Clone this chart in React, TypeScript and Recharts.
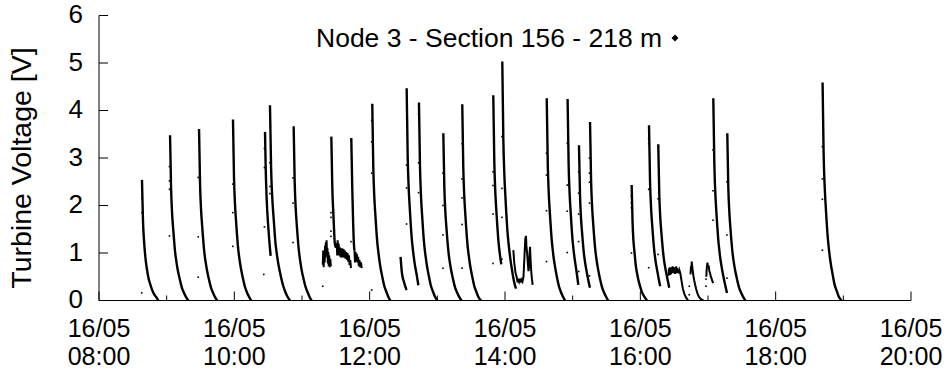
import React from 'react';
import { ComposedChart, Line, Scatter, XAxis, YAxis } from 'recharts';

// Time axis: minutes after 16/05 08:00 ; value: turbine voltage [V]
const legendLabel = 'Node 3 - Section 156 - 218 m';
const yAxisTitle = 'Turbine Voltage [V]';
const dateLabel = '16/05';
const xTicks = [0, 60, 120, 180, 240, 300, 360, 420, 480, 540, 600, 660, 720];
const yTicks = [0, 1, 2, 3, 4, 5, 6];

const burst01 = [[38.1, 2.54], [39.0, 1.68], [39.9, 1.27], [40.8, 0.99], [41.6, 0.81], [42.5, 0.66], [43.4, 0.53], [44.3, 0.43], [45.2, 0.36], [47.0, 0.23], [48.7, 0.14], [50.5, 0.08], [52.6, 0]];
const burst02 = [[63.0, 3.48], [63.9, 2.37], [64.8, 1.84], [65.7, 1.53], [66.5, 1.29], [67.4, 1.04], [68.3, 0.87], [69.2, 0.73], [70.1, 0.61], [71.9, 0.42], [73.6, 0.26], [75.4, 0.16], [77.2, 0.07], [79.2, 0]];
const burst03 = [[88.7, 3.61], [89.6, 2.45], [90.5, 1.91], [91.4, 1.59], [92.2, 1.34], [93.1, 1.08], [94.0, 0.9], [94.9, 0.76], [95.8, 0.63], [97.6, 0.43], [99.3, 0.27], [101.1, 0.16], [102.9, 0.07], [104.7, 0]];
const burst04 = [[118.8, 3.81], [119.7, 2.59], [120.6, 2.02], [121.5, 1.68], [122.3, 1.41], [123.2, 1.14], [124.1, 0.95], [125.0, 0.8], [125.9, 0.67], [127.7, 0.46], [129.4, 0.29], [131.2, 0.17], [133.0, 0.08], [134.8, 0]];
const burst05 = [[147.2, 3.55], [147.8, 2.8], [148.7, 2.12], [150.1, 1.55], [152.2, 0.94]];
const burst06 = [[151.6, 4.11], [152.6, 2.79], [153.6, 2.18], [154.6, 1.81], [155.5, 1.52], [156.4, 1.23], [157.4, 1.03], [158.4, 0.86], [159.4, 0.72], [161.4, 0.49], [163.3, 0.31], [165.2, 0.18], [167.2, 0.08], [169.4, 0]];
const burst07 = [[172.6, 3.67], [173.5, 2.5], [174.4, 1.95], [175.3, 1.61], [176.1, 1.36], [177.0, 1.1], [177.9, 0.92], [178.8, 0.77], [179.7, 0.64], [181.5, 0.44], [183.2, 0.28], [185.0, 0.17], [186.8, 0.07], [188.6, 0]];
const burst08 = [[206.0, 3.45], [206.9, 2.35], [207.8, 1.83], [208.6, 1.4], [209.3, 1.13], [210.8, 1.2]];
const burst09 = [[223.7, 3.42], [224.6, 2.33], [225.4, 1.6], [226.0, 1.2], [226.5, 1.05]];
const burst10 = [[242.3, 4.14], [243.2, 2.82], [244.1, 2.19], [245.0, 1.82], [245.8, 1.53], [246.7, 1.24], [247.6, 1.04], [248.5, 0.87], [249.4, 0.72], [251.2, 0.5], [252.9, 0.31], [254.7, 0.19], [256.5, 0.08], [258.3, 0]];
const burst11 = [[267.4, 0.92], [268.5, 0.6], [270.3, 0.4], [272.7, 0.22]];
const burst12 = [[272.8, 4.47], [273.7, 3.04], [274.6, 2.37], [275.5, 1.97], [276.3, 1.65], [277.2, 1.34], [278.1, 1.12], [279.0, 0.94], [279.9, 0.78], [281.7, 0.54], [283.2, 0.32]];
const burst13 = [[283.7, 4.17], [284.6, 2.84], [285.5, 2.21], [286.4, 1.83], [287.2, 1.54], [288.1, 1.25], [289.0, 1.04], [289.9, 0.88], [290.8, 0.73], [292.6, 0.5], [294.3, 0.31], [296.1, 0.19], [297.9, 0.08], [300.2, 0]];
const burst14 = [[305.3, 3.52], [306.2, 2.39], [307.1, 1.87], [308.0, 1.55], [308.8, 1.3], [309.7, 1.06], [310.6, 0.88], [311.5, 0.74], [312.4, 0.62], [314.2, 0.42], [315.9, 0.26], [317.7, 0.16], [319.5, 0.07], [321.5, 0]];
const burst15 = [[322.1, 4.13], [323.0, 2.81], [323.9, 2.19], [324.8, 1.82], [325.6, 1.53], [326.5, 1.24], [327.4, 1.03], [328.3, 0.87], [329.2, 0.72], [331.0, 0.5], [332.7, 0.31], [334.5, 0.19], [336.3, 0.08], [338.8, 0]];
const burst16 = [[349.6, 4.32], [350.5, 2.94], [351.4, 2.29], [352.3, 1.9], [353.1, 1.6], [354.0, 1.3], [354.9, 1.08], [355.8, 0.91], [356.7, 0.76]];
const burst17 = [[357.6, 5.03], [358.5, 3.42], [359.4, 2.67], [360.3, 2.21], [361.1, 1.86], [362.0, 1.51], [362.9, 1.26], [363.8, 1.06], [364.7, 0.88], [366.5, 0.6], [368.2, 0.38], [369.8, 0.25]];
const burst18 = [[397.0, 4.26], [397.9, 2.9], [398.8, 2.26], [399.7, 1.87], [400.5, 1.58], [401.4, 1.28], [402.3, 1.07], [403.2, 0.89], [404.1, 0.75], [405.9, 0.51], [407.6, 0.32], [409.4, 0.19], [411.2, 0.09], [413.2, 0]];
const burst19 = [[415.5, 4.24], [416.4, 2.88], [417.3, 2.25], [418.2, 1.87], [419.0, 1.57], [419.9, 1.27], [420.8, 1.06], [421.7, 0.89], [422.6, 0.74], [424.0, 0.51], [425.0, 0.33]];
const burst20 = [[425.6, 3.27], [426.5, 2.22], [427.4, 1.73], [428.3, 1.44], [429.1, 1.21], [430.0, 0.98], [430.9, 0.82], [431.8, 0.69], [432.7, 0.57], [434.2, 0.39], [435.3, 0.27]];
const burst21 = [[435.4, 3.76], [436.3, 2.56], [437.2, 1.99], [438.1, 1.65], [438.9, 1.39], [439.8, 1.13], [440.7, 0.94], [441.6, 0.79], [442.5, 0.66], [444.3, 0.45], [446.0, 0.28], [447.8, 0.17], [449.6, 0.08], [451.4, 0]];
const burst22 = [[472.3, 2.43], [473.1, 1.65], [473.8, 1.29], [474.6, 1.07], [475.3, 0.9], [476.0, 0.73], [476.8, 0.61], [477.6, 0.51], [478.3, 0.43], [479.9, 0.29], [481.3, 0.18], [482.8, 0.11], [484.4, 0.05], [485.9, 0]];
const burst23 = [[487.7, 3.69], [488.6, 2.51], [489.5, 1.96], [490.4, 1.62], [491.2, 1.37], [492.1, 1.11], [493.0, 0.92], [493.9, 0.77], [494.8, 0.65], [496.4, 0.44], [497.6, 0.3]];
const burst24 = [[495.9, 3.29], [496.8, 2.24], [497.7, 1.74], [498.6, 1.45], [499.4, 1.22], [500.3, 0.99], [501.2, 0.82], [502.1, 0.69], [503.0, 0.58], [504.6, 0.39], [505.6, 0.27]];
const burst25 = [[544.7, 4.26], [545.6, 2.9], [546.5, 2.26], [547.4, 1.87], [548.2, 1.58], [549.1, 1.28], [550.0, 1.07], [550.9, 0.89], [551.8, 0.75], [553.6, 0.51], [555.3, 0.32], [556.8, 0.16]];
const burst26 = [[557.1, 3.52], [558.0, 2.39], [558.9, 1.87], [559.8, 1.55], [560.6, 1.3], [561.5, 1.06], [562.4, 0.88], [563.3, 0.74], [564.2, 0.62], [566.0, 0.42], [567.7, 0.26], [569.5, 0.16], [571.3, 0.07], [573.1, 0]];
const burst27 = [[641.6, 4.59], [642.5, 3.12], [643.4, 2.43], [644.3, 2.02], [645.1, 1.7], [646.0, 1.38], [646.9, 1.15], [647.8, 0.96], [648.7, 0.8], [650.5, 0.55], [652.2, 0.34], [654.0, 0.21], [655.8, 0.09], [658.4, 0]];

// small irregular (noisy) episodes
const noiseA = [[198.4, 0.75], [198.8, 1.05], [199.2, 0.7], [199.7, 0.95], [200.1, 0.8], [200.4, 1.15], [200.8, 0.9], [201.1, 1.22], [201.5, 1.0], [201.8, 1.27], [202.2, 0.95], [202.6, 1.1], [202.9, 0.78], [203.3, 1.02], [203.7, 0.72], [204.1, 0.95], [204.6, 0.7], [205.1, 0.88], [205.6, 0.72]];
const noiseB = [[210.8, 1.2], [211.2, 0.95], [211.6, 1.27], [212.0, 1.0], [212.5, 1.2], [213.0, 0.95], [213.5, 1.12], [214.0, 0.92], [214.6, 1.1], [215.1, 0.9], [215.6, 1.1], [216.2, 0.92], [216.8, 1.08], [217.4, 0.9], [218.0, 1.05], [218.6, 0.88], [219.2, 1.02], [219.8, 0.86], [220.4, 1.0], [221.0, 0.82], [221.6, 0.95], [222.2, 0.75], [222.8, 0.85], [223.4, 0.68]];
const noiseC = [[226.5, 1.05], [227.0, 0.8], [227.5, 1.02], [228.0, 0.82], [228.6, 0.98], [229.2, 0.8], [229.8, 0.92], [230.4, 0.72], [231.0, 0.85], [231.6, 0.7], [232.3, 0.8], [233.0, 0.68]];
const noiseD = [[367.4, 1.06], [368.2, 0.8], [369.2, 0.6], [370.6, 0.47], [371.2, 0.38], [371.8, 0.46], [372.5, 0.4], [373.2, 0.46], [373.9, 0.38], [374.6, 0.44], [375.5, 0.4], [376.4, 0.5], [377.0, 0.8], [377.5, 1.05], [378.0, 1.3], [378.6, 1.36], [379.0, 1.15], [379.6, 1.0], [380.2, 0.8], [380.8, 0.62], [381.4, 0.7], [381.8, 1.0], [382.2, 1.13], [382.7, 0.85], [383.3, 0.6], [383.9, 0.45], [384.5, 0.33]];
const noiseE = [[505.0, 0.52], [505.4, 0.68], [505.8, 0.55], [506.2, 0.7], [506.6, 0.54], [507.0, 0.66], [507.4, 0.56], [507.8, 0.7], [508.2, 0.58], [508.6, 0.72], [509.0, 0.6], [509.4, 0.7], [509.8, 0.58], [510.2, 0.68], [510.6, 0.56], [511.0, 0.7], [511.4, 0.57], [511.8, 0.72], [512.2, 0.6], [512.6, 0.68], [513.0, 0.58], [513.5, 0.66], [514.0, 0.57], [514.6, 0.64], [515.4, 0.58], [516.5, 0.42], [517.6, 0.26], [519.0, 0.14], [520.6, 0.06], [522.4, 0]];
const noiseF = [[524.5, 0.55], [524.9, 0.72], [525.2, 0.66], [525.6, 0.82], [526.1, 0.7], [526.5, 0.62], [527.2, 0.5], [527.8, 0.42], [528.6, 0.33], [529.5, 0.24], [530.5, 0.16], [531.5, 0.1], [532.5, 0.06], [533.8, 0.03], [536.0, 0]];
const noiseG = [[538.5, 0.5], [538.8, 0.65], [539.1, 0.72], [539.5, 0.8], [540.0, 0.7], [540.5, 0.74], [541.2, 0.62], [541.8, 0.58], [542.5, 0.5], [543.2, 0.46], [544.0, 0.4], [544.7, 0.37]];

// isolated samples captured during the fast rises
const strays = [
  [37.9, 0.16], [38.1, 2.15], [38.1, 1.85],
  [62.5, 2.82], [62.5, 2.52], [62.5, 2.34], [62.5, 1.36],
  [88.0, 2.59], [88.0, 1.34], [88.0, 0.49],
  [118.6, 2.45], [118.6, 1.85], [118.6, 1.14],
  [146.7, 3.2], [146.7, 2.8], [146.7, 1.55], [146.1, 0.55],
  [151.6, 2.9], [151.6, 2.4], [151.6, 2.25],
  [172.0, 2.58], [172.0, 2.05], [172.0, 1.22],
  [205.7, 1.85], [205.7, 1.75], [205.7, 1.46], [205.7, 1.35], [198.4, 0.3],
  [223.4, 1.24],
  [241.8, 3.79], [241.8, 3.34], [241.8, 2.68], [241.8, 0.22],
  [272.7, 2.85], [272.7, 2.37], [272.7, 1.61],
  [283.4, 3.93], [283.4, 2.9], [283.4, 2.27],
  [305.0, 2.68], [305.0, 2.0], [305.0, 1.38], [305.0, 0.68],
  [321.9, 3.3], [321.9, 2.56], [321.9, 2.16], [321.9, 1.6], [321.9, 0.68],
  [349.4, 2.71], [349.4, 2.42], [349.4, 1.82], [349.4, 0.78],
  [357.3, 3.45], [357.3, 2.36], [357.3, 1.75], [357.3, 0.87],
  [396.8, 3.1], [396.8, 2.64], [396.8, 1.89], [396.8, 0.82],
  [415.2, 3.31], [415.2, 2.43], [415.2, 1.88], [415.2, 1.01],
  [425.3, 2.71], [425.3, 2.26], [425.3, 1.82], [425.3, 1.24], [425.3, 0.61],
  [434.9, 3.0], [434.9, 2.68], [434.9, 2.49], [434.9, 2.05], [434.9, 0.52],
  [472.1, 2.2], [472.1, 2.05], [472.1, 1.95], [472.1, 1.0],
  [487.4, 3.4], [487.4, 3.3], [487.4, 2.34], [487.4, 0.69],
  [495.7, 2.14], [495.7, 0.97],
  [523.4, 0.3], [523.4, 0.12], [538.2, 0.45], [538.2, 0.3],
  [544.4, 3.17], [544.4, 2.31], [544.4, 1.69],
  [556.8, 2.5], [556.8, 1.38], [556.8, 0.47],
  [641.4, 3.24], [641.4, 2.56], [641.4, 2.13], [641.4, 1.06],
];

const bursts = [burst01, burst02, burst03, burst04, burst05, burst06, burst07, burst08, burst09, burst10,
  burst11, burst12, burst13, burst14, burst15, burst16, burst17, burst18, burst19, burst20,
  burst21, burst22, burst23, burst24, burst25, burst26, burst27];
const noises = [noiseA, noiseB, noiseC, noiseD, noiseE, noiseF, noiseG];

const toRows = (a: number[][]) => a.map(([t, v]) => ({ t, v }));

const FONT = '"Liberation Sans", Arial, Helvetica, sans-serif';

const timeLabel = (m: number) => `${String(8 + Math.round(m / 60)).padStart(2, '0')}:00`;

const XTick = (props: any) => {
  const { x, y, payload } = props;
  const major = payload.value % 120 === 0;
  return (
    <g>
      <line x1={x} x2={x} y1={y} y2={y - (major ? 9 : 5)} stroke="#000" strokeWidth={1} />
      {major && (
        <text x={x} textAnchor="middle" fontFamily={FONT} fontSize={25} fill="#000">
          <tspan x={x} y={y + 36}>{dateLabel}</tspan>
          <tspan x={x} y={y + 64.5}>{timeLabel(payload.value)}</tspan>
        </text>
      )}
    </g>
  );
};

const YTick = (props: any) => {
  const { x, y, payload } = props;
  return (
    <g>
      <line x1={x} x2={x + 9} y1={y} y2={y} stroke="#000" strokeWidth={1} />
      <text x={x - 16} y={y + 7.5} textAnchor="end" fontFamily={FONT} fontSize={26} fill="#000">
        {payload.value}
      </text>
    </g>
  );
};

const Dot = (props: any) => (
  <rect x={props.cx - 0.8} y={props.cy - 0.8} width={1.6} height={1.6} fill="#000" />
);

const Overlay = () => (
  <g>
    <text x={316} y={47} fontFamily={FONT} fontSize={26.5} fill="#000">{legendLabel}</text>
    <path d="M675 34.5 L678.5 38 L675 41.5 L671.5 38 Z" fill="#000" />
    <text transform="translate(31,168) rotate(-90)" textAnchor="middle" fontFamily={FONT} fontSize={28.5} fill="#000">
      {yAxisTitle}
    </text>
  </g>
);

export default function App() {
  return (
    <div style={{ position: 'absolute', left: 0, top: 0, background: '#fff' }}>
      <ComposedChart width={947} height={370} margin={{ top: 15.5, right: 36, bottom: 9.5, left: 39 }}>
        <XAxis
          type="number"
          dataKey="t"
          domain={[0, 720]}
          ticks={xTicks}
          interval={0}
          tickSize={0}
          tickMargin={0}
          tickLine={false}
          axisLine={{ stroke: '#000', strokeWidth: 1 }}
          tick={<XTick />}
          height={60}
          allowDataOverflow
        />
        <YAxis
          type="number"
          domain={[0, 6]}
          ticks={yTicks}
          interval={0}
          tickSize={0}
          tickMargin={0}
          tickLine={false}
          axisLine={{ stroke: '#000', strokeWidth: 1 }}
          tick={<YTick />}
          width={60}
          allowDataOverflow
        />
        {bursts.map((b, i) => (
          <Line
            key={`b${i}`}
            data={toRows(b)}
            dataKey="v"
            type="monotone"
            stroke="#000"
            strokeWidth={2.4}
            dot={false}
            activeDot={false}
            isAnimationActive={false}
          />
        ))}
        {noises.map((b, i) => (
          <Line
            key={`n${i}`}
            data={toRows(b)}
            dataKey="v"
            type="linear"
            stroke="#000"
            strokeWidth={2}
            dot={false}
            activeDot={false}
            isAnimationActive={false}
          />
        ))}
        <Scatter data={toRows(strays)} dataKey="v" shape={<Dot />} isAnimationActive={false} />
        <Overlay />
      </ComposedChart>
    </div>
  );
}
